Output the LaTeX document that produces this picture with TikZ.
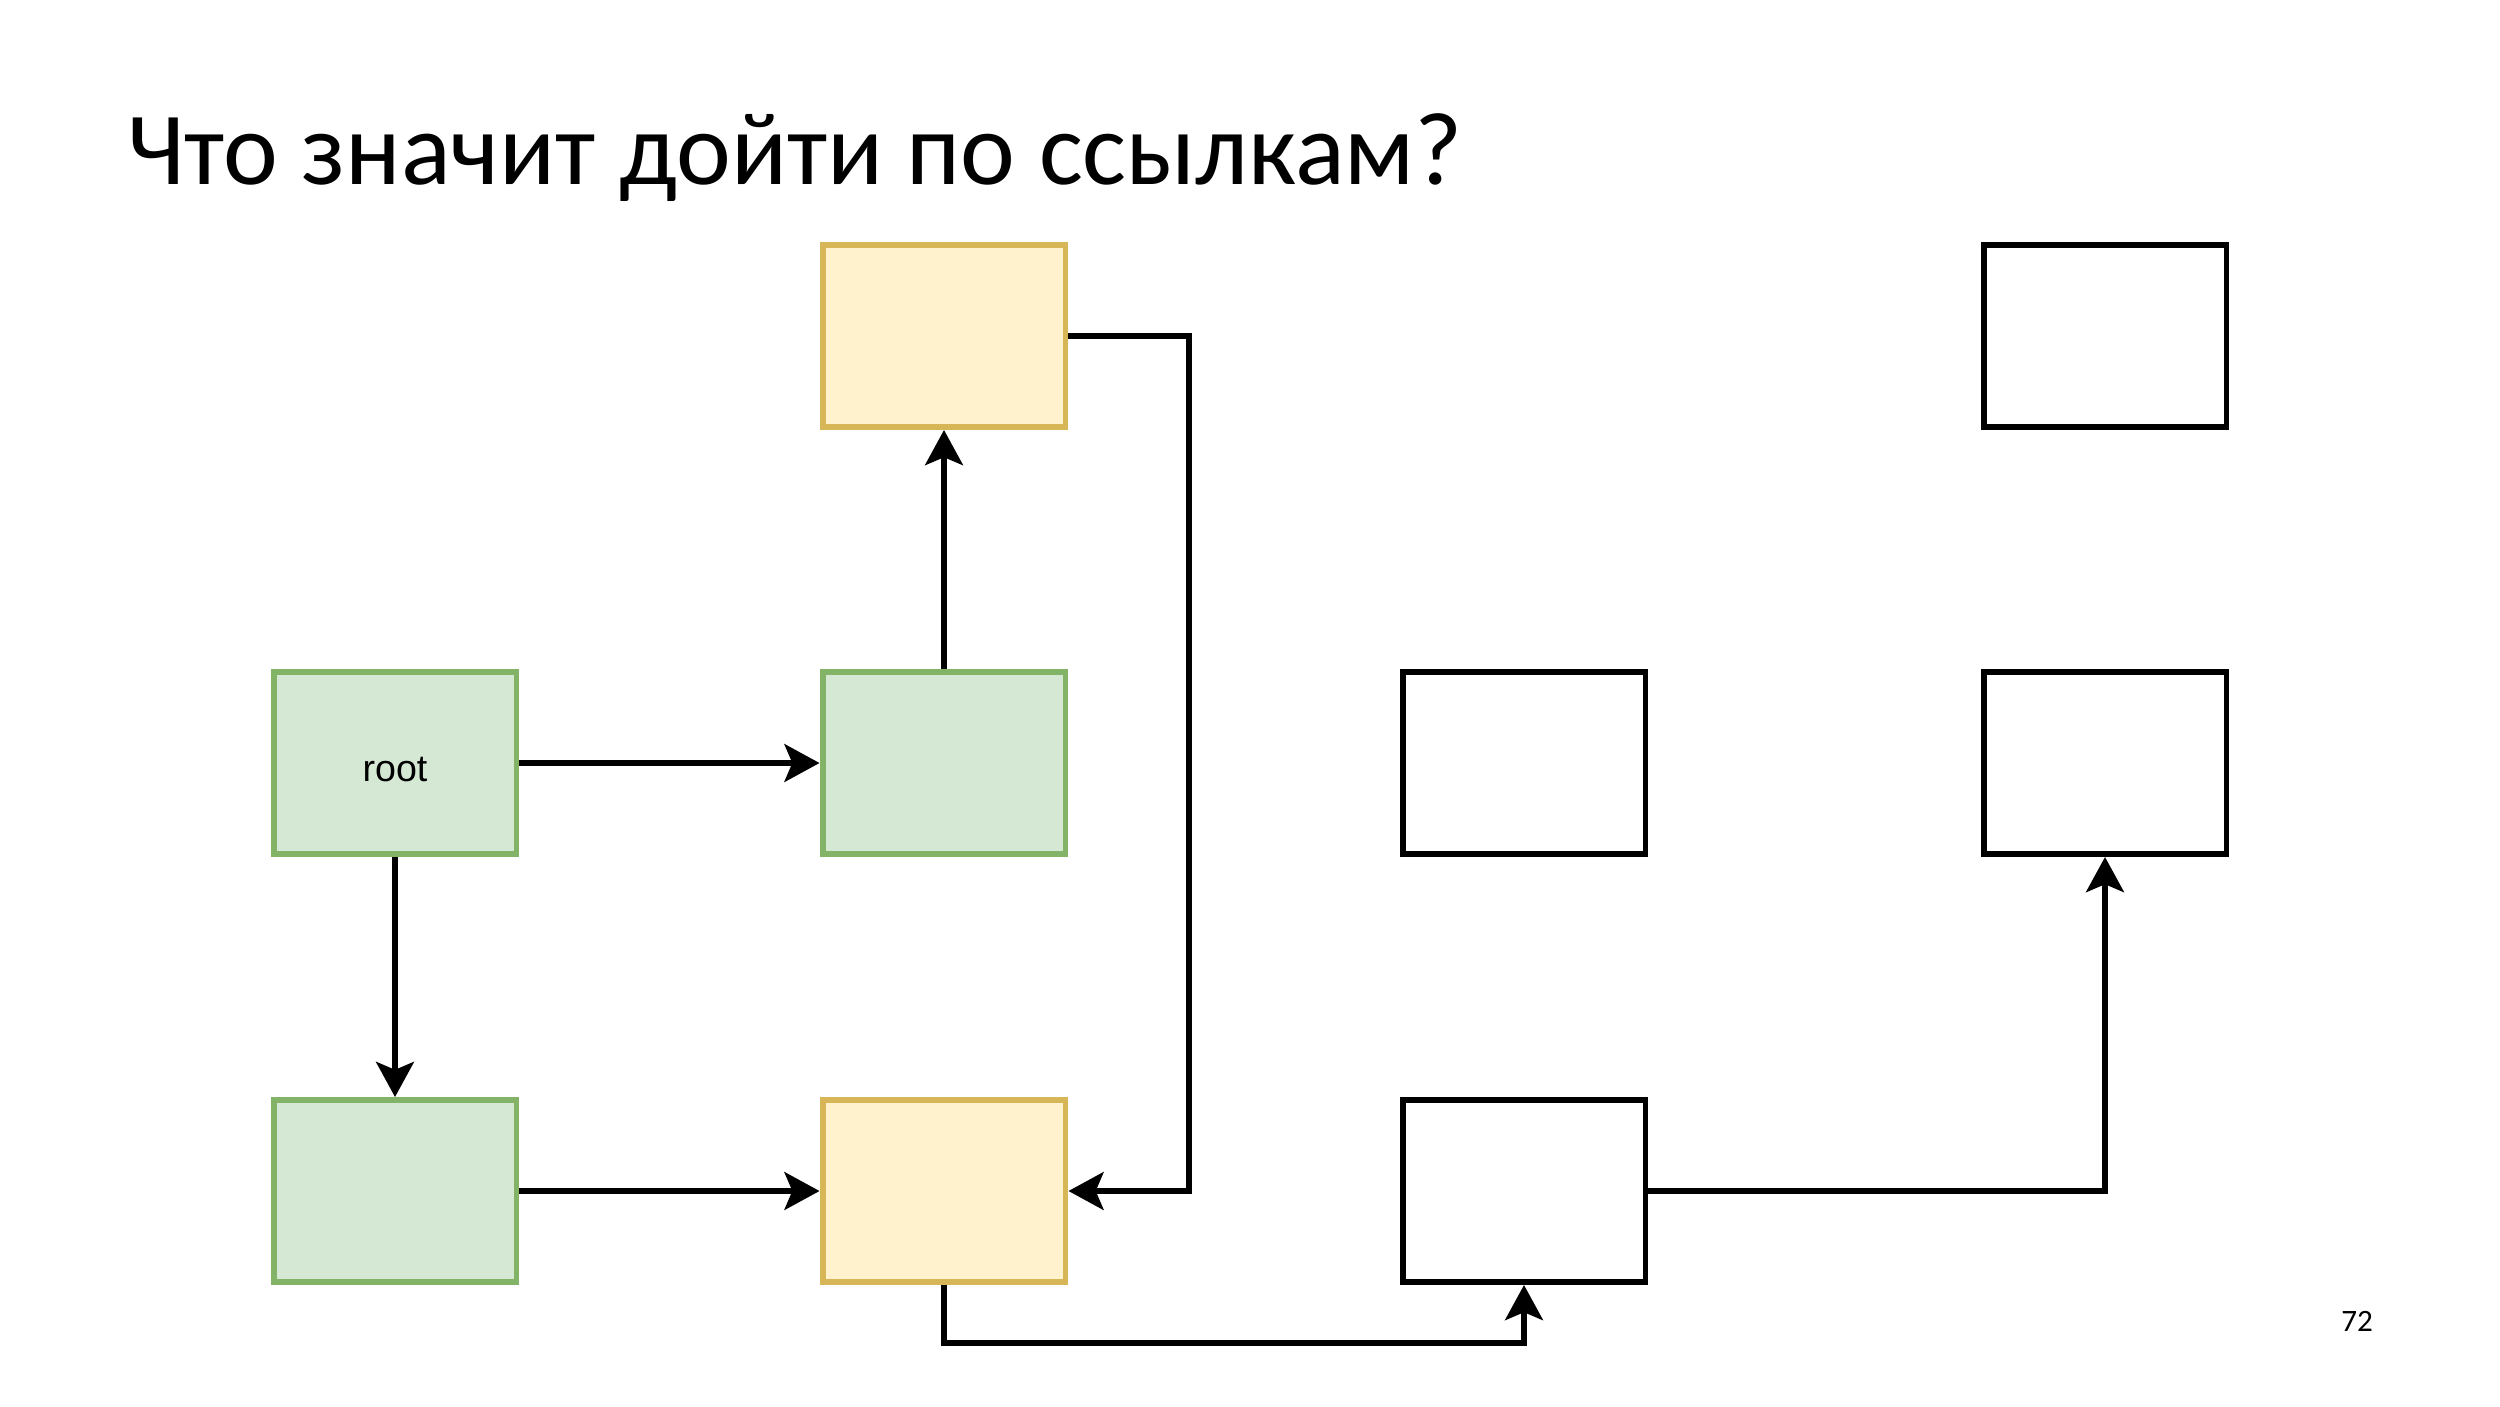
\documentclass[tikz,border=0pt]{standalone}
\usepackage{fontspec}
\setmainfont{Carlito}
\newfontfamily\boxfont{Liberation Sans}
\usetikzlibrary{arrows.meta}
\definecolor{greenfill}{HTML}{D5E8D4}
\definecolor{greenline}{HTML}{82B366}
\definecolor{yellowfill}{HTML}{FFF2CC}
\definecolor{yellowline}{HTML}{D6B656}

\begin{document}
\begin{tikzpicture}[x=0.013547cm, y=-0.013547cm,
	box/.style={draw, line width=2.3pt, minimum width=3.292cm, minimum height=2.466cm, inner sep=0pt},
	greenbox/.style={box, draw=greenline, fill=greenfill},
	yellowbox/.style={box, draw=yellowline, fill=yellowfill},
	plainbox/.style={box, draw=black, fill=white},
	link/.style={line width=2.3pt, -{Stealth[length=13.5pt, width=14.5pt, inset=3pt]}}]
	\useasboundingbox (0,0) rectangle (2500,1406);
	\node[anchor=base west, font=\fontsize{40}{48}\selectfont] (title) at (118,184) {Что значит дойти по ссылкам?};
	\node[anchor=base, font=\fontsize{12}{14}\selectfont] (pagenum) at (2357,1331) {72};
	% left part
	\node[greenbox, label={[yshift=-2.7pt, font=\boxfont\fontsize{14.5}{17}\selectfont]center:root}] (root) at (395,763) {};
	\node[greenbox] (g1) at (944,763) {};
	\node[greenbox] (g2) at (395,1191) {};
	\node[yellowbox] (y1) at (944,336) {};
	\node[yellowbox] (y2) at (944,1191) {};
	% right part
	\node[plainbox] (w1) at (2105,336) {};
	\node[plainbox] (w2) at (1524,763) {};
	\node[plainbox] (w3) at (1524,1191) {};
	\node[plainbox] (w4) at (2105,763) {};
	\coordinate (bendA) at (1189,336);
	\coordinate (lowrail) at (944,1343);
	\draw[link] (root.east) -- (g1.west);
	\draw[link] (root.south) -- (g2.north);
	\draw[link] (g2.east) -- (y2.west);
	\draw[link] (g1.north) -- (y1.south);
	\draw[link] (y1.east) -- (bendA) |- (y2.east);
	\draw[link] (y2.south) -- (lowrail) -| (w3.south);
	\draw[link] (w3.east) -| (w4.south);
\end{tikzpicture}
\end{document}
